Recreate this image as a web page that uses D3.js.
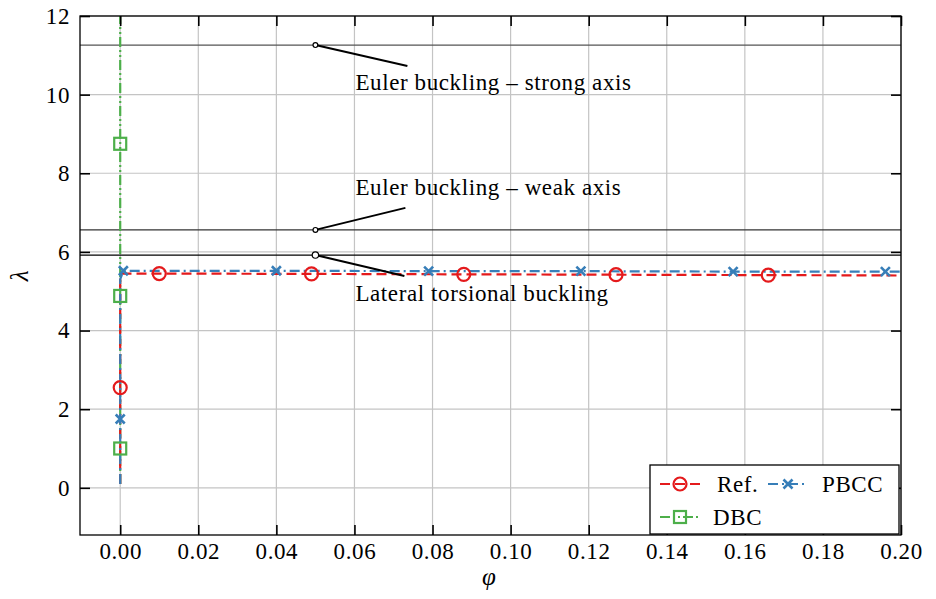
<!DOCTYPE html>
<html>
<head>
<meta charset="utf-8">
<script src="https://cdn.jsdelivr.net/npm/d3@7"></script>
<style>
  body { margin: 0; background: #fff; }
  text { font-family: "Liberation Serif", "DejaVu Serif", serif; fill: #000; letter-spacing: 0.6px; }
</style>
</head>
<body>
<div class="chart"></div>
<script>
// data
var refPhi  = [0, 0, 0, 0.0005, 0.010, 0.049, 0.088, 0.127, 0.166, 0.200];
var refLam  = [0.1, 2.55, 5.30, 5.45, 5.45, 5.44, 5.43, 5.42, 5.41, 5.40];
var refMarks = [1, 4, 5, 6, 7, 8];

var pbccPhi = [0, 0, 0, 0.0008, 0.040, 0.079, 0.118, 0.157, 0.196, 0.200];
var pbccLam = [0.1, 1.75, 5.30, 5.52, 5.52, 5.51, 5.51, 5.50, 5.50, 5.50];
var pbccMarks = [1, 3, 4, 5, 6, 7, 8];

var dbcPhi = [0, 0, 0, 0, 0];
var dbcLam = [0.1, 1.0, 4.88, 8.75, 12.5];
var dbcMarks = [1, 2, 3];

var refLines = [
  {name: "Euler buckling \u2013 strong axis", value: 11.26, color: "#555", dx: 92, dy: 21, tx: 40, ty: 45},
  {name: "Euler buckling \u2013 weak axis", value: 6.56, color: "#333", dx: 90, dy: -22, tx: 40, ty: -35},
  {name: "Lateral torsional buckling", value: 5.92, color: "#000", dx: 89, dy: 21, tx: 40, ty: 46}
];
var annotX = 0.05;

var xTicks = [0, 0.02, 0.04, 0.06, 0.08, 0.10, 0.12, 0.14, 0.16, 0.18, 0.20];
var yTicks = [0, 2, 4, 6, 8, 10, 12];

var width = 936, height = 599;
var margin = {top: 16, right: 35, bottom: 64, left: 80},
    w = width - margin.left - margin.right,
    h = height - margin.top - margin.bottom;
var fs = "23px";

var svg = d3.select(".chart").append("svg")
    .attr("width", width)
    .attr("height", height)
  .append("g")
    .attr("transform", "translate(" + margin.left + "," + margin.top + ")");

var x = d3.scaleLinear().domain([-0.0103, 0.2]).range([0, w]);
var y = d3.scaleLinear().domain([-1.2, 12]).range([h, 0]);

svg.append("defs").append("clipPath").attr("id", "clip")
  .append("rect").attr("width", w).attr("height", h);

// grid
svg.append("g").selectAll("line").data(xTicks).enter().append("line")
  .attr("x1", d => x(d)).attr("x2", d => x(d)).attr("y1", 0).attr("y2", h)
  .attr("stroke", "#c4c4c4").attr("stroke-width", 1.2);
svg.append("g").selectAll("line").data(yTicks).enter().append("line")
  .attr("y1", d => y(d)).attr("y2", d => y(d)).attr("x1", 0).attr("x2", w)
  .attr("stroke", "#c4c4c4").attr("stroke-width", 1.2);

// horizontal buckling lines
svg.append("g").selectAll("line").data(refLines).enter().append("line")
  .attr("x1", 0).attr("x2", w)
  .attr("y1", d => y(d.value)).attr("y2", d => y(d.value))
  .attr("stroke", d => d.color).attr("stroke-width", 1.2);

var plot = svg.append("g").attr("clip-path", "url(#clip)");
var line = d3.line().x(d => x(d[0])).y(d => y(d[1]));

var series = [
  {name: "Ref.", phi: refPhi, lam: refLam, marks: refMarks, color: "#e41a1c", dash: "10,5", marker: "circle"},
  {name: "PBCC", phi: pbccPhi, lam: pbccLam, marks: pbccMarks, color: "#377eb8", dash: "10,4,2,4", marker: "x"},
  {name: "DBC", phi: dbcPhi, lam: dbcLam, marks: dbcMarks, color: "#4daf4a", dash: "10,3,2,3,2,3", marker: "square"}
];

function drawMarker(g, type, color) {
  if (type === "circle") {
    g.append("circle").attr("r", 6.5).attr("fill", "none")
      .attr("stroke", color).attr("stroke-width", 2.2);
  } else if (type === "square") {
    g.append("rect").attr("x", -6).attr("y", -6).attr("width", 12).attr("height", 12)
      .attr("fill", "none").attr("stroke", color).attr("stroke-width", 2.2);
  } else {
    g.append("path").attr("d", "M-4.5,-4.5L4.5,4.5M-4.5,4.5L4.5,-4.5")
      .attr("stroke", color).attr("stroke-width", 2.6);
  }
}

// DBC drawn first, then Ref, then PBCC
[series[2], series[0], series[1]].forEach(function(s) {
  var pts = s.phi.map((p, i) => [p, s.lam[i]]);
  plot.append("path").datum(pts)
    .attr("fill", "none").attr("stroke", s.color).attr("stroke-width", 2.2)
    .attr("stroke-dasharray", s.dash).attr("d", line);
});
[series[2], series[0], series[1]].forEach(function(s) {
  s.marks.forEach(function(i) {
    var g = plot.append("g").attr("transform", "translate(" + x(s.phi[i]) + "," + y(s.lam[i]) + ")");
    drawMarker(g, s.marker, s.color);
  });
});

// annotations
refLines.forEach(function(d, i) {
  var px = x(annotX), py = y(d.value);
  svg.append("line").attr("x1", px).attr("y1", py)
    .attr("x2", px + d.dx).attr("y2", py + d.dy)
    .attr("stroke", "#000").attr("stroke-width", 2);
  svg.append("circle").attr("cx", px).attr("cy", py).attr("r", i === 2 ? 3.2 : 2.4)
    .attr("fill", "#fff").attr("stroke", "#000").attr("stroke-width", 1.2);
  svg.append("text").attr("x", px + d.tx).attr("y", py + d.ty)
    .style("font-size", fs).text(d.name);
});

// axes with inward ticks on all sides
var tickLen = 10;
svg.append("g").attr("transform", "translate(0," + h + ")")
  .call(d3.axisBottom(x).tickValues(xTicks).tickFormat(d3.format(".2f")).tickSizeInner(-tickLen).tickSizeOuter(0).tickPadding(8))
  .call(g => g.select(".domain").remove());
svg.append("g")
  .call(d3.axisTop(x).tickValues(xTicks).tickFormat("").tickSizeInner(-tickLen).tickSizeOuter(0))
  .call(g => g.select(".domain").remove());
svg.append("g")
  .call(d3.axisLeft(y).tickValues(yTicks).tickFormat(d3.format("d")).tickSizeInner(-tickLen).tickSizeOuter(0).tickPadding(10))
  .call(g => g.select(".domain").remove());
svg.append("g").attr("transform", "translate(" + w + ",0)")
  .call(d3.axisRight(y).tickValues(yTicks).tickFormat("").tickSizeInner(-tickLen).tickSizeOuter(0))
  .call(g => g.select(".domain").remove());

svg.selectAll(".tick line").attr("stroke", "#000").attr("stroke-width", 1.6);
svg.selectAll(".tick text").style("font-size", fs).style("font-family", "'Liberation Serif', serif").attr("fill", "#000");

svg.append("rect").attr("width", w).attr("height", h)
  .attr("fill", "none").attr("stroke", "#000").attr("stroke-width", 1.3);

// axis labels
svg.append("text").attr("x", x(0.0945)).attr("y", h + 50)
  .attr("text-anchor", "middle").style("font-size", "25px").style("font-style", "italic")
  .text("\u03c6");
svg.append("text").attr("transform", "translate(" + (-52) + "," + y(5.4) + ") rotate(-90)")
  .attr("text-anchor", "middle").style("font-size", "25px").style("font-style", "italic")
  .text("\u03bb");

// legend
var lg = svg.append("g").attr("transform", "translate(" + (650 - margin.left) + "," + (465 - margin.top) + ")");
lg.append("rect").attr("width", 249).attr("height", 69)
  .attr("fill", "#fff").attr("stroke", "#000").attr("stroke-width", 1.3);
var legendPos = [
  {s: series[0], x: 10, y: 19, tx: 57},
  {s: series[1], x: 118, y: 19, tx: 54},
  {s: series[2], x: 10, y: 52, tx: 53}
];
legendPos.forEach(function(p) {
  var g = lg.append("g").attr("transform", "translate(" + p.x + "," + p.y + ")");
  g.append("line").attr("x1", 0).attr("x2", 40).attr("stroke", p.s.color)
    .attr("stroke-width", 2.2).attr("stroke-dasharray", p.s.dash);
  drawMarker(g.append("g").attr("transform", "translate(20,0)"), p.s.marker, p.s.color);
  g.append("text").attr("x", p.tx).attr("y", 7.5).style("font-size", fs).text(p.s.name);
});
</script>
</body>
</html>
